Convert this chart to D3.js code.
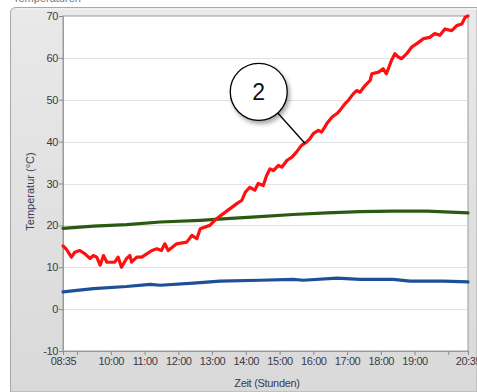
<!DOCTYPE html>
<html lang="de">
  <head>
    <title>Temperaturen</title>
    <meta charset="utf-8">
    <script src="https://d3js.org/d3.v7.min.js"></script>
    <style>
      body { margin: 0; background: #fff; }
      svg text { font-family: "Liberation Sans", Arial, sans-serif; }
    </style>
  </head>
  <body>
    <div id="chart"></div>
    <script>
      // Daten
      const redTimes = ["08:35","08:41","08:50","08:56","09:05","09:14","09:23","09:29","09:35","09:41","09:47","09:53","09:59","10:07","10:13","10:19","10:28","10:34","10:37","10:46","10:55","11:04","11:13","11:22","11:30","11:36","11:42","11:57","12:15","12:24","12:33","12:39","12:56","13:08","13:20","13:32","13:44","13:53","13:59","14:07","14:16","14:22","14:31","14:37","14:43","14:49","14:58","15:04","15:13","15:22","15:30","15:39","15:48","15:54","16:00","16:09","16:15","16:24","16:33","16:42","16:47","16:56","17:02","17:11","17:17","17:23","17:32","17:41","17:44","17:56","18:04","18:10","18:19","18:25","18:31","18:37","18:46","18:55","19:04","19:16","19:27","19:36","19:45","19:54","20:06","20:15","20:24","20:30","20:35"]
      const redValues = [15.1,14.3,12.4,13.6,14.0,13.2,12.1,12.8,12.4,10.5,12.8,11.2,11.2,11.2,12.4,10.0,12.1,12.8,11.2,12.4,12.4,13.2,14.0,14.4,14.0,15.6,14.0,15.6,16.0,17.6,16.8,19.2,20.0,21.6,22.8,24.0,25.2,26.0,27.9,29.1,28.4,30.0,29.5,31.9,33.5,33.1,34.3,33.9,35.5,36.3,37.5,39.1,39.9,40.7,41.9,42.7,42.3,44.3,45.8,46.7,47.4,49.0,49.8,51.4,52.2,51.8,53.4,54.6,56.2,56.6,57.4,56.2,59.4,61.0,60.2,59.8,61.0,62.6,63.4,64.6,64.9,65.8,65.4,66.9,66.5,67.7,68.1,69.7,70.0]

      const greenTimes = ["08:35","09:29","10:28","11:28","12:39","13:26","14:25","15:24","16:24","17:23","18:22","19:22","20:35"]
      const greenValues = [19.3,19.8,20.2,20.8,21.2,21.6,22.1,22.6,23.0,23.3,23.4,23.4,23.0]

      const blueTimes = ["08:35","09:29","10:28","11:10","11:28","12:27","13:14","14:25","15:24","15:42","16:42","17:23","18:22","18:52","19:51","20:35"]
      const blueValues = [4.1,4.9,5.4,5.9,5.7,6.2,6.7,6.9,7.1,6.9,7.4,7.1,7.1,6.7,6.7,6.5]

      const xTicks = ["08:35","09:00","10:00","11:00","12:00","13:00","14:00","15:00","16:00","17:00","18:00","19:00","20:00","20:35"]
      const xTickLabels = ["08:35","","10:00","11:00","12:00","13:00","14:00","15:00","16:00","17:00","18:00","19:00","","20:35"]
      const yTicks = [-10, 0, 10, 20, 30, 40, 50, 60, 70]

      // Markierung "2"
      const callout = { label: "2", time: "15:45", value: 39.6, badgeTime: "14:23", badgeValue: 51.9 }

      const largura = 477, altura = 392
      const margem = { esquerda: 63, direita: 9, topo: 16, base: 41 }

      const parse = d3.timeParse("%H:%M")

      const svg = d3.select("#chart").append("svg")
        .attr("width", largura).attr("height", altura)

      const defs = svg.append("defs")
      const grad = defs.append("linearGradient").attr("id", "panel")
        .attr("x1", 0).attr("y1", 0).attr("x2", 0).attr("y2", 1)
      grad.append("stop").attr("offset", "0%").attr("stop-color", "#e9e9e9")
      grad.append("stop").attr("offset", "100%").attr("stop-color", "#d9d9d9")
      const shadow = defs.append("filter").attr("id", "sombra")
        .attr("x", "-30%").attr("y", "-30%").attr("width", "170%").attr("height", "170%")
      shadow.append("feDropShadow").attr("dx", 2).attr("dy", 3).attr("stdDeviation", 2)
        .attr("flood-color", "#000").attr("flood-opacity", 0.35)

      // Titel oben (abgeschnitten)
      svg.append("text").attr("x", 13).attr("y", 2)
        .attr("font-size", 11).attr("fill", "#777").text("Temperaturen")

      // Panel
      svg.append("path")
        .attr("d", "M10.5,392 L10.5,13 Q10.5,7.5 16,7.5 L477,7.5 L477,392 Z")
        .attr("fill", "url(#panel)").attr("stroke", "#a8a8a8")
      svg.append("line").attr("x1", 16).attr("x2", 477).attr("y1", 9).attr("y2", 9)
        .attr("stroke", "#f7f7f7")

      const x = d3.scaleTime()
        .domain([parse("08:35"), parse("20:35")])
        .range([margem.esquerda, largura - margem.direita])
      const y = d3.scaleLinear()
        .domain([-10, 70])
        .range([altura - margem.base, margem.topo])

      // Plotfläche
      svg.append("rect")
        .attr("x", x.range()[0]).attr("y", y(70))
        .attr("width", x.range()[1] - x.range()[0])
        .attr("height", y(-10) - y(70))
        .attr("fill", "#fff").attr("stroke", "#9a9a9a")

      // Gitter
      svg.append("g").selectAll("line")
        .data(yTicks.filter(d => d > -10 && d < 70))
        .join("line")
          .attr("x1", x.range()[0] + 1).attr("x2", x.range()[1] - 1)
          .attr("y1", d => Math.round(y(d)) + 0.5).attr("y2", d => Math.round(y(d)) + 0.5)
          .attr("stroke", "#e2e2e2")

      // Achsen
      const eixoX = svg.append("g")
        .attr("transform", `translate(0, ${y(-10)})`)
        .call(d3.axisBottom(x)
          .tickValues(xTicks.map(parse))
          .tickFormat((d, i) => xTickLabels[i])
          .tickSize(4).tickPadding(2).tickSizeOuter(0))
      const eixoY = svg.append("g")
        .attr("transform", `translate(${x.range()[0]}, 0)`)
        .call(d3.axisLeft(y).tickValues(yTicks).tickFormat(d => String(d))
          .tickSize(4).tickPadding(1).tickSizeOuter(0))
      for (const eixo of [eixoX, eixoY]) {
        eixo.select(".domain").attr("stroke", "#9a9a9a")
        eixo.selectAll(".tick line").attr("stroke", "#8a8a8a")
        eixo.selectAll(".tick text")
          .attr("font-family", "'Liberation Sans', Arial, sans-serif")
          .attr("font-size", 11).attr("fill", "#3a3a48").attr("letter-spacing", -0.4)
      }

      svg.append("text")
        .attr("transform", `translate(34, ${(y(-10) + y(70)) / 2 + 8}) rotate(-90)`)
        .attr("text-anchor", "middle").attr("font-size", 11).attr("fill", "#3a3a55")
        .text("Temperatur (°C)")
      svg.append("text")
        .attr("x", 267).attr("y", 387)
        .attr("text-anchor", "middle").attr("font-size", 11).attr("fill", "#3a3a55")
        .attr("letter-spacing", -0.3)
        .text("Zeit (Stunden)")

      // Linien
      const linha = d3.line().x(d => x(d.t)).y(d => y(d.v))
      const series = [
        { times: greenTimes, values: greenValues, cor: "#2a5a12" },
        { times: blueTimes, values: blueValues, cor: "#1f4f97" },
        { times: redTimes, values: redValues, cor: "#ff1010" }
      ]
      svg.append("g").selectAll("path")
        .data(series)
        .join("path")
          .attr("d", s => linha(s.times.map((t, i) => ({ t: parse(t), v: s.values[i] }))))
          .attr("fill", "none").attr("stroke", s => s.cor)
          .attr("stroke-width", 3.2).attr("stroke-linejoin", "round").attr("stroke-linecap", "round")

      // Markierung
      const bx = x(parse(callout.badgeTime)), by = y(callout.badgeValue), r = 28.5
      const tx = x(parse(callout.time)), ty = y(callout.value)
      const ang = Math.atan2(ty - by, tx - bx)
      svg.append("line")
        .attr("x1", bx + r * Math.cos(ang)).attr("y1", by + r * Math.sin(ang))
        .attr("x2", tx).attr("y2", ty)
        .attr("stroke", "#000").attr("stroke-width", 1.3)
      svg.append("circle")
        .attr("cx", bx).attr("cy", by).attr("r", r)
        .attr("fill", "#fff").attr("stroke", "#000").attr("stroke-width", 1.3)
        .attr("filter", "url(#sombra)")
      svg.append("text")
        .attr("x", bx).attr("y", by + 8)
        .attr("text-anchor", "middle").attr("font-size", 23).attr("fill", "#111")
        .text(callout.label)
    </script>
  </body>
</html>
